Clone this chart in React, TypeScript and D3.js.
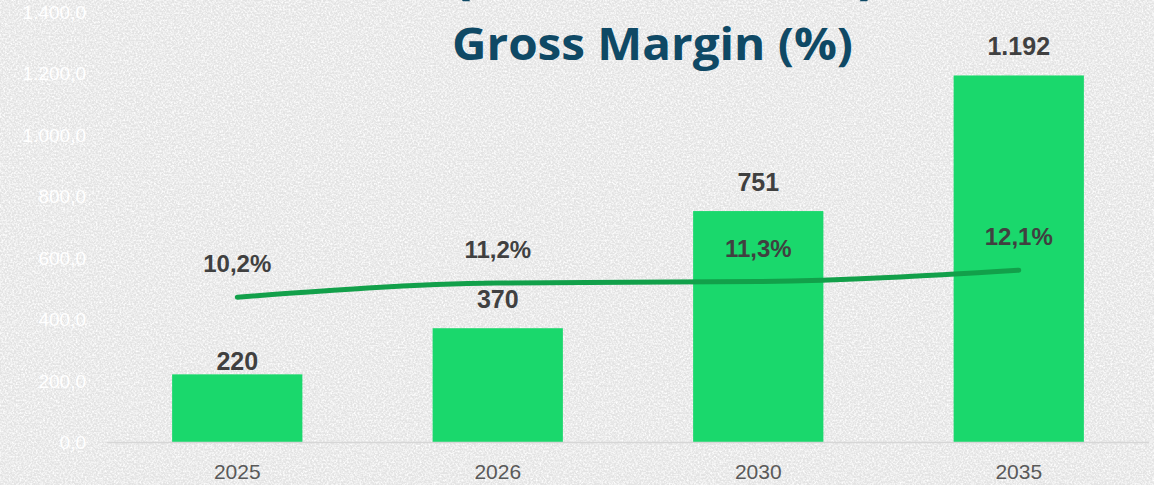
import React from 'react';
import * as d3 from 'd3';

const years = ['2025', '2026', '2030', '2035'];
const revenue = [220, 370, 751, 1192];
const revenueLabels = ['220', '370', '751', '1.192'];
const grossMargin = [10.2, 11.2, 11.3, 12.1];
const marginLabels = ['10,2%', '11,2%', '11,3%', '12,1%'];
const yTicks = [0, 200, 400, 600, 800, 1000, 1200, 1400];
const yTickLabels = ['0,0', '200,0', '400,0', '600,0', '800,0', '1.000,0', '1.200,0', '1.400,0'];
const titleLine1a = 'Revenue ';
const titleLine1b = '(EUR, millions)';
const titleLine2 = 'Gross Margin (%)';

const W = 1154;
const H = 485;
const BASE = 442;
// label lift above bar top (px, layout only)
const valueLift = [13, 29, 29, 29];

export default function App() {
  const x = d3.scaleBand<string>().domain(years).range([107, 1149]).paddingInner(0.5).paddingOuter(0.25);
  const y = d3.scaleLinear().domain([0, 1400]).range([BASE, 11.5]);
  const y2 = d3.scaleLinear().domain([0, 30]).range([BASE, 16]);
  const cx = (i: number) => (x(years[i]) as number) + x.bandwidth() / 2;

  const lineGen = d3
    .line<number>()
    .x((_, i) => cx(i))
    .y((d) => y2(d))
    .curve(d3.curveMonotoneX);

  const labelFont = "'Liberation Sans', Arial, sans-serif";

  return (
    <svg
      width={W}
      height={H}
      style={{ position: 'absolute', left: 0, top: 0, display: 'block' }}
    >
      <defs>
        <filter id="tex" x="0" y="0" width="100%" height="100%">
          <feTurbulence type="fractalNoise" baseFrequency="0.55" numOctaves="2" seed="7" result="n" />
          <feColorMatrix
            in="n"
            type="matrix"
            values="0 0 0 0 1  0 0 0 0 1  0 0 0 0 1  2.2 0 0 0 -0.8"
          />
        </filter>
      </defs>
      <rect x={0} y={0} width={W} height={H} fill="#e3e3e3" />
      <rect x={0} y={0} width={W} height={H} fill="#fff" filter="url(#tex)" />

      {/* title */}
      <text
        x={450}
        y={-6}
        textAnchor="end"
        fontFamily="'Open Sans', sans-serif"
        fontWeight={700}
        fontSize={44}
        fill="#0f4965"
      >
        {titleLine1a}
      </text>
      <text
        x={452}
        y={-6}
        textLength={426}
        lengthAdjust="spacingAndGlyphs"
        fontFamily="'Open Sans', sans-serif"
        fontWeight={700}
        fontSize={44}
        fill="#0f4965"
      >
        {titleLine1b}
      </text>
      <text
        x={452}
        y={60}
        textLength={401}
        lengthAdjust="spacingAndGlyphs"
        fontFamily="'Open Sans', sans-serif"
        fontWeight={700}
        fontSize={44}
        fill="#0f4965"
      >
        {titleLine2}
      </text>

      {/* y tick labels */}
      {yTicks.map((t, i) => (
        <text
          key={t}
          x={86}
          y={y(t) + 7}
          textAnchor="end"
          fontFamily={labelFont}
          fontSize={19}
          fill="#ffffff"
        >
          {yTickLabels[i]}
        </text>
      ))}

      {/* bars */}
      {revenue.map((v, i) => (
        <rect
          key={years[i]}
          x={x(years[i])}
          y={y(v)}
          width={x.bandwidth()}
          height={y(0) - y(v)}
          fill="#1ad86c"
        />
      ))}

      {/* baseline */}
      <line x1={107} x2={1149} y1={BASE + 0.5} y2={BASE + 0.5} stroke="#d6d6d6" strokeWidth={1.5} />

      {/* x labels */}
      {years.map((yr, i) => (
        <text
          key={yr}
          x={cx(i)}
          y={479}
          textAnchor="middle"
          fontFamily={labelFont}
          fontSize={21}
          fill="#595959"
        >
          {yr}
        </text>
      ))}

      {/* value labels */}
      {revenue.map((v, i) => (
        <text
          key={'v' + i}
          x={cx(i)}
          y={y(v) - valueLift[i] + 9}
          textAnchor="middle"
          fontFamily={labelFont}
          fontWeight={700}
          fontSize={25}
          fill="#404040"
        >
          {revenueLabels[i]}
        </text>
      ))}

      {/* margin line */}
      <path
        d={lineGen(grossMargin) || ''}
        fill="none"
        stroke="#12a04a"
        strokeWidth={5}
        strokeLinecap="round"
        strokeLinejoin="round"
      />

      {/* margin labels */}
      {grossMargin.map((m, i) => (
        <text
          key={'m' + i}
          x={cx(i)}
          y={y2(m) - 25}
          textAnchor="middle"
          fontFamily={labelFont}
          fontWeight={700}
          fontSize={24}
          fill="#404040"
        >
          {marginLabels[i]}
        </text>
      ))}
    </svg>
  );
}
